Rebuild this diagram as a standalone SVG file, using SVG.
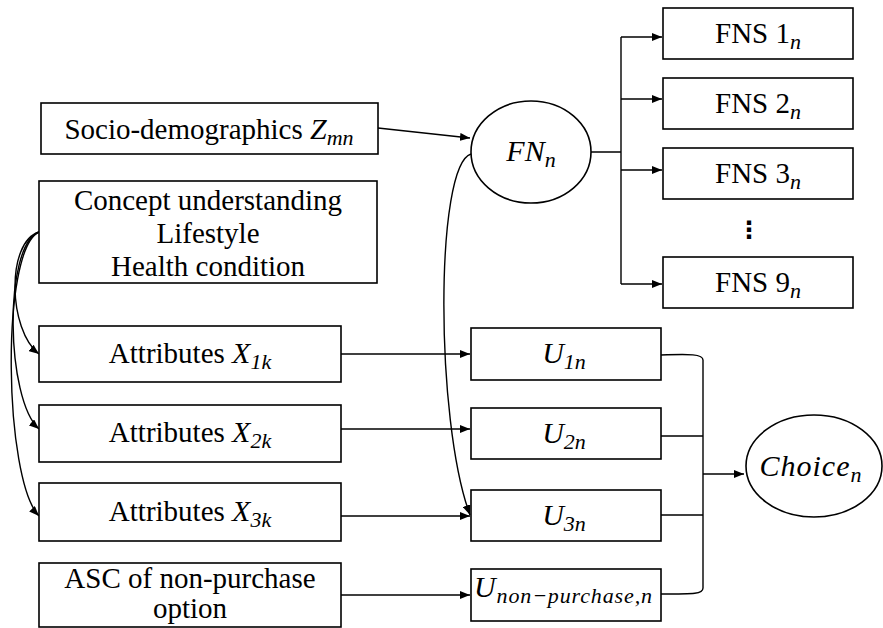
<svg xmlns="http://www.w3.org/2000/svg" width="883" height="628" viewBox="0 0 883 628">
<defs>
<marker id="ah" viewBox="0 0 10 8" refX="10" refY="4" markerWidth="10" markerHeight="8" markerUnits="userSpaceOnUse" orient="auto">
<path d="M0,0 L10,4 L0,8 z" fill="#000"/>
</marker>
<style>
.box{fill:#fff;stroke:#000;stroke-width:1.6}
.t{font-family:"Liberation Serif","Times New Roman",serif;font-size:29px;fill:#000;text-anchor:middle}
.m{font-style:italic;font-size:30px}
.s{font-size:22px;font-style:italic}
.c{fill:none;stroke:#000;stroke-width:1.4}
.a{fill:none;stroke:#000;stroke-width:1.4;marker-end:url(#ah)}
</style>
</defs>
<rect width="883" height="628" fill="#fff"/>

<g id="connectors">
<line class="a" x1="378" y1="128" x2="470" y2="138"/>
<path class="c" d="M591 152 H621 M621 37 V284"/>
<path class="a" d="M621 37 H662"/>
<path class="a" d="M621 99 H662"/>
<path class="a" d="M621 170 H662"/>
<path class="a" d="M621 284 H662"/>
<path class="a" d="M471 154 C 435 165, 435 420, 470 515"/>
<path class="a" d="M39 232 C 6 242, 8 330, 39 354"/>
<path class="a" d="M39 232 C 3 246, 6 400, 39 429"/>
<path class="a" d="M39 232 C 0 250, 4 480, 39 516"/>
<path class="a" d="M341 354 H470"/>
<path class="a" d="M341 429 H470"/>
<path class="a" d="M341 516 H470"/>
<path class="a" d="M341 595 H470"/>
<path class="c" d="M661 355 C 690 354, 703 354, 703 360 V588 C 703 594, 695 594, 661 594"/>
<path class="c" d="M661 436 H703 M661 515 H703"/>
<path class="a" d="M703 474 H744"/>
</g>

<g id="socio">
<rect class="box" x="41" y="103" width="337" height="51"/>
<text class="t" x="209" y="139">Socio-demographics <tspan class="m">Z</tspan><tspan class="s" dy="6">mn</tspan></text>
</g>

<g id="concept">
<rect class="box" x="39" y="181" width="338" height="102"/>
<text class="t" x="208" y="210">Concept understanding</text>
<text class="t" x="208" y="243">Lifestyle</text>
<text class="t" x="208" y="276">Health condition</text>
</g>

<g id="attr1">
<rect class="box" x="39" y="326" width="302" height="56"/>
<text class="t" x="190" y="363">Attributes <tspan class="m">X</tspan><tspan class="s" dy="6">1k</tspan></text>
</g>
<g id="attr2">
<rect class="box" x="39" y="405" width="302" height="57"/>
<text class="t" x="190" y="442">Attributes <tspan class="m">X</tspan><tspan class="s" dy="6">2k</tspan></text>
</g>
<g id="attr3">
<rect class="box" x="39" y="483" width="302" height="58"/>
<text class="t" x="190" y="521">Attributes <tspan class="m">X</tspan><tspan class="s" dy="6">3k</tspan></text>
</g>
<g id="asc">
<rect class="box" x="39" y="563" width="302" height="64"/>
<text class="t" x="190" y="588">ASC of non-purchase</text>
<text class="t" x="190" y="618">option</text>
</g>

<g id="fn">
<ellipse class="box" cx="531" cy="152" rx="60" ry="51"/>
<text class="t" x="531" y="161"><tspan class="m">FN</tspan><tspan class="s" dy="6">n</tspan></text>
</g>

<g id="fns1">
<rect class="box" x="663" y="8" width="190" height="51"/>
<text class="t" x="758" y="43">FNS 1<tspan class="s" dy="6">n</tspan></text>
</g>
<g id="fns2">
<rect class="box" x="663" y="78" width="190" height="51"/>
<text class="t" x="758" y="113">FNS 2<tspan class="s" dy="6">n</tspan></text>
</g>
<g id="fns3">
<rect class="box" x="663" y="148" width="190" height="51"/>
<text class="t" x="758" y="183">FNS 3<tspan class="s" dy="6">n</tspan></text>
</g>
<g id="dots">
<text x="749" y="238" style="font-family:'DejaVu Sans',sans-serif;font-size:24px;font-weight:bold;text-anchor:middle">⋮</text>
</g>
<g id="fns9">
<rect class="box" x="663" y="257" width="190" height="51"/>
<text class="t" x="758" y="292">FNS 9<tspan class="s" dy="6">n</tspan></text>
</g>

<g id="u1">
<rect class="box" x="471" y="328" width="190" height="52"/>
<text class="t" x="564" y="363"><tspan class="m">U</tspan><tspan class="s" dy="6">1n</tspan></text>
</g>
<g id="u2">
<rect class="box" x="471" y="408" width="190" height="51"/>
<text class="t" x="564" y="443"><tspan class="m">U</tspan><tspan class="s" dy="6">2n</tspan></text>
</g>
<g id="u3">
<rect class="box" x="471" y="490" width="190" height="51"/>
<text class="t" x="564" y="525"><tspan class="m">U</tspan><tspan class="s" dy="6">3n</tspan></text>
</g>
<g id="unon">
<rect class="box" x="471" y="569" width="190" height="52"/>
<text class="t" x="563" y="597" textLength="178" lengthAdjust="spacing"><tspan class="m">U</tspan><tspan class="s" dy="6">non−purchase,n</tspan></text>
</g>

<g id="choice">
<ellipse class="box" cx="814" cy="466" rx="68" ry="51"/>
<text class="t" x="811" y="476" style="letter-spacing:1px"><tspan class="m">Choice</tspan><tspan class="s" dy="6">n</tspan></text>
</g>
</svg>
